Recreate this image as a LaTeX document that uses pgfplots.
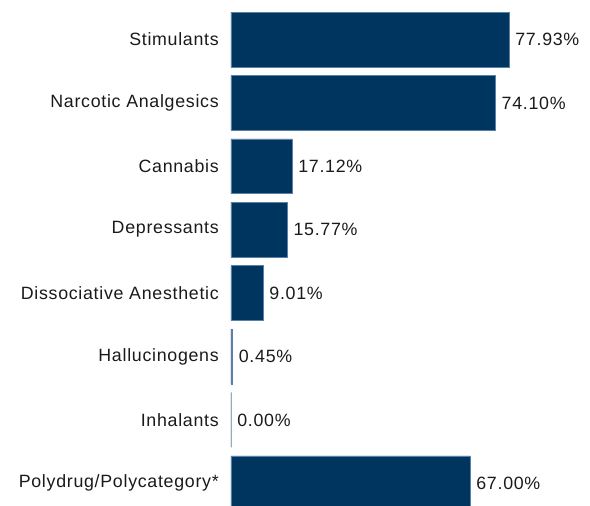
\documentclass[border=0pt]{standalone}
\usepackage{fontspec}
\setmainfont{Liberation Sans}[LetterSpace=4]
\usepackage{pgfplots}
\pgfplotsset{compat=1.18}
\definecolor{barc}{HTML}{00355F}
\definecolor{edgec}{HTML}{5A80A8}
\definecolor{txt}{HTML}{1A1A1A}
\pgfplotstableread{
x y
77.93 0
74.10 1
17.12 2
15.77 3
9.01 4
0.45 5
0.00 6
67.00 7
}\datatab
\begin{document}
\begin{tikzpicture}
\useasboundingbox (-231pt,0pt) rectangle (359pt,506pt);
\begin{axis}[at={(0pt,0pt)}, anchor=south west, scale only axis,
  width=359pt, height=506pt,
  xmin=0, xmax=100.6, ymin=-0.623, ymax=7.358, y dir=reverse,
  xbar, bar width=0.867,
  axis line style={draw=none}, xtick=\empty,
  ytick={0,1,2,3,4,5,6,7},
  yticklabels={Stimulants,Narcotic Analgesics,Cannabis,Depressants,Dissociative Anesthetic,Hallucinogens,Inhalants,Polydrug/Polycategory*},
  major tick length=0pt,
  yticklabel style={font=\fontsize{17.8}{21}\selectfont, text=txt, anchor=east, inner sep=0pt, xshift=-12pt},
  nodes near coords={\pgfmathprintnumber[fixed,precision=2,fixed zerofill,assume math mode=true]{\pgfplotspointmeta}\%},
  point meta=x,
  every node near coord/.append style={font=\fontsize{17.8}{21}\selectfont, text=txt, anchor=west, inner sep=0pt, xshift=6pt},
]
\addplot[fill=barc, draw=edgec, line width=0.6pt] table[x=x, y=y] {\datatab};
\end{axis}
\end{tikzpicture}
\end{document}
